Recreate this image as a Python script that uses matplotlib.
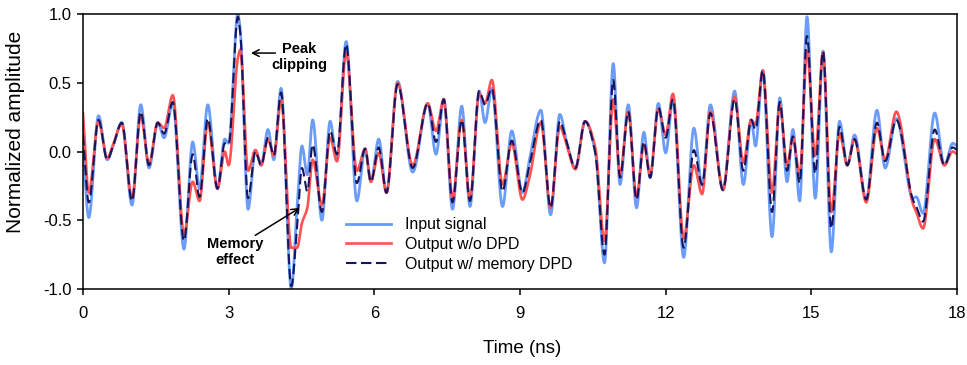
import matplotlib

matplotlib.use("Agg")

import matplotlib.pyplot as plt
import numpy as np

# knot times (ns): peaks, troughs and shoulders
time_ns = [
    0.00, 0.12, 0.32, 0.50, 0.62, 0.80, 1.01, 1.19, 1.36, 1.54, 1.67, 1.85, 2.08, 2.26, 2.40,
    2.57, 2.77, 2.92, 3.00, 3.19, 3.24, 3.40, 3.55, 3.67, 3.81, 3.93, 4.08, 4.29, 4.41, 4.51,
    4.62, 4.73, 4.92, 5.09, 5.23, 5.42, 5.64, 5.81, 5.93, 6.09, 6.25, 6.48, 6.79, 7.10, 7.27,
    7.43, 7.61, 7.80, 7.97, 8.16, 8.28, 8.42, 8.64, 8.83, 9.05, 9.20, 9.43, 9.63, 9.82, 9.96,
    10.14, 10.34, 10.55, 10.74, 10.92, 11.06, 11.23, 11.40, 11.55, 11.68, 11.85, 12.00, 12.15,
    12.37, 12.58, 12.75, 12.92, 13.18, 13.42, 13.60, 13.76, 13.85, 14.00, 14.19, 14.35, 14.50,
    14.62, 14.76, 14.91, 15.08, 15.24, 15.41, 15.58, 15.74, 15.89, 16.13, 16.35, 16.52, 16.75,
    17.09, 17.16, 17.30, 17.54, 17.74, 17.91, 18.00,
]

input_signal = [
    0.02, -0.48, 0.26, -0.06, 0.04, 0.21, -0.39, 0.34, -0.12, 0.21, 0.10, 0.35, -0.71, 0.07, -0.27,
    0.34, -0.27, 0.09, 0.06, 1.00, 0.88, -0.42, 0.01, -0.10, 0.16, -0.06, 0.46, -1.00, -0.40, 0.04,
    -0.17, 0.23, -0.50, 0.22, -0.07, 0.80, -0.36, 0.02, -0.22, 0.09, -0.30, 0.51, -0.15, 0.35, -0.02,
    0.38, -0.42, 0.33, -0.40, 0.44, 0.21, 0.46, -0.40, 0.15, -0.30, -0.05, 0.30, -0.46, 0.27, 0.07,
    -0.12, 0.22, 0.00, -0.81, 0.64, -0.24, 0.34, -0.41, 0.14, -0.19, 0.35, -0.01, 0.38,
    -0.77, 0.17, -0.25, 0.34, -0.28, 0.44, -0.24, 0.23, 0.04, 0.59, -0.62, 0.39, -0.22,
    0.16, -0.36, 0.98, -0.34, 0.73, -0.73, 0.22, -0.10, 0.12, -0.35, 0.30, -0.12, 0.24,
    -0.34, -0.33, -0.45, 0.28, -0.10, 0.06, 0.04,
]

output_no_dpd = [
    0.28, -0.30, 0.22, -0.05, 0.05, 0.20, -0.34, 0.26, -0.09, 0.21, 0.17, 0.41, -0.60, -0.22, -0.36,
    0.21, -0.27, 0.00, -0.10, 0.68, 0.74, -0.14, 0.01, -0.10, 0.09, -0.03, 0.37, -0.70, -0.70, -0.52,
    -0.41, -0.06, -0.39, 0.10, -0.07, 0.72, -0.14, 0.02, -0.22, -0.01, -0.30, 0.50, -0.10, 0.35, 0.15,
    0.38, -0.34, 0.23, -0.35, 0.42, 0.35, 0.52, -0.24, 0.06, -0.35, -0.18, 0.21, -0.41, 0.18, 0.05,
    -0.13, 0.22, 0.03, -0.65, 0.38, -0.17, 0.29, -0.33, 0.05, -0.17, 0.31, 0.12, 0.42,
    -0.63, -0.10, -0.31, 0.29, -0.28, 0.40, -0.08, 0.23, 0.20, 0.59, -0.30, 0.34, -0.10,
    0.10, -0.17, 0.73, -0.03, 0.72, -0.44, 0.13, -0.10, 0.09, -0.37, 0.17, -0.06, 0.29,
    -0.38, -0.44, -0.56, 0.09, -0.10, 0.00, -0.02,
]

output_memory_dpd = [
    0.12, -0.37, 0.23, -0.06, 0.04, 0.21, -0.36, 0.29, -0.10, 0.21, 0.13, 0.36, -0.65, -0.02, -0.33,
    0.24, -0.27, 0.06, 0.05, 0.98, 0.86, -0.34, 0.00, -0.10, 0.10, -0.03, 0.43, -0.98, -0.55, -0.12,
    -0.29, 0.05, -0.44, 0.15, -0.02, 0.78, -0.23, 0.02, -0.22, 0.03, -0.30, 0.49, -0.12, 0.35, 0.07,
    0.38, -0.37, 0.23, -0.36, 0.44, 0.34, 0.46, -0.29, 0.08, -0.30, -0.09, 0.23, -0.41, 0.22, 0.07,
    -0.12, 0.22, -0.01, -0.75, 0.52, -0.19, 0.29, -0.35, 0.07, -0.19, 0.32, 0.10, 0.38,
    -0.70, 0.01, -0.24, 0.28, -0.28, 0.38, -0.14, 0.23, 0.16, 0.59, -0.44, 0.36, -0.14,
    0.11, -0.23, 0.84, -0.16, 0.73, -0.56, 0.18, -0.10, 0.09, -0.35, 0.21, -0.07, 0.23,
    -0.35, -0.40, -0.51, 0.16, -0.10, 0.03, 0.01,
]

x_ticks = [0, 3, 6, 9, 12, 15, 18]
y_ticks = [-1.0, -0.5, 0.0, 0.5, 1.0]


def smooth_line(t, y, per_seg=24):
    # monotone cubic Hermite through the read points (flat at peaks/troughs)
    t = np.asarray(t, dtype=float)
    y = np.asarray(y, dtype=float)
    h = np.diff(t)
    d = np.diff(y) / h
    m = np.zeros_like(y)
    for i in range(1, len(y) - 1):
        if d[i - 1] * d[i] > 0:
            w1 = 2 * h[i] + h[i - 1]
            w2 = h[i] + 2 * h[i - 1]
            m[i] = (w1 + w2) / (w1 / d[i - 1] + w2 / d[i])
    m[0] = d[0]
    m[-1] = d[-1]
    xs, ys = [], []
    for i in range(len(h)):
        s = np.linspace(0, 1, per_seg, endpoint=False)
        h00 = 2 * s**3 - 3 * s**2 + 1
        h10 = s**3 - 2 * s**2 + s
        h01 = -2 * s**3 + 3 * s**2
        h11 = s**3 - s**2
        xs.append(t[i] + s * h[i])
        ys.append(h00 * y[i] + h10 * h[i] * m[i] + h01 * y[i + 1] + h11 * h[i] * m[i + 1])
    xs.append([t[-1]])
    ys.append([y[-1]])
    return np.concatenate(xs), np.concatenate(ys)


plt.rcParams["font.family"] = ["Liberation Sans", "DejaVu Sans"]

fig = plt.figure(figsize=(9.67, 3.65), dpi=100)
ax = fig.add_axes([0.0858, 0.2082, 0.9039, 0.7534])

tx, yb = smooth_line(time_ns, input_signal)
_, yr = smooth_line(time_ns, output_no_dpd)
_, yn = smooth_line(time_ns, output_memory_dpd)

ax.plot(tx, yb, color="#6a9cf8", linewidth=2.0, label="Input signal")
ax.plot(tx, yr, color="#ff5252", linewidth=1.9, label="Output w/o DPD")
ax.plot(tx, yn, color="#151560", linewidth=1.5, dashes=(5, 2.2), label="Output w/ memory DPD")

ax.set_xlim(0, 18)
ax.set_ylim(-1, 1)
ax.set_xticks(x_ticks)
ax.set_yticks(y_ticks)
ax.set_yticklabels([f"{v:.1f}" for v in y_ticks])
ax.tick_params(direction="out", length=4.3, width=1.1, labelsize=12, top=False, right=False)
ax.tick_params(axis="x", pad=8)
ax.tick_params(axis="y", pad=4)
for side in ax.spines.values():
    side.set_linewidth(1.1)

ax.set_xlabel("Time (ns)", fontsize=13.5)
ax.xaxis.set_label_coords(0.502, -0.185)
ax.set_ylabel("Normalized amplitude", fontsize=15)
ax.yaxis.set_label_coords(-0.066, 0.571)

ax.annotate("", xy=(3.40, 0.716), xytext=(4.02, 0.716),
            arrowprops=dict(arrowstyle="->", color="black", lw=1.1, mutation_scale=12))
ax.text(4.45, 0.69, "Peak\nclipping", ha="center", va="center", fontsize=10.5,
        fontweight="bold", linespacing=1.2)
ax.annotate("", xy=(4.51, -0.40), xytext=(3.50, -0.62),
            arrowprops=dict(arrowstyle="->", color="black", lw=1.1, mutation_scale=12))
ax.text(3.13, -0.73, "Memory\neffect", ha="center", va="center", fontsize=10.5,
        fontweight="bold", linespacing=1.2)

ax.legend(loc="upper left", bbox_to_anchor=(0.292, 0.29), frameon=False, fontsize=11.4,
          handlelength=2.85, handletextpad=0.9, labelspacing=0.3, borderpad=0)

fig.savefig("out.png", dpi=100)
